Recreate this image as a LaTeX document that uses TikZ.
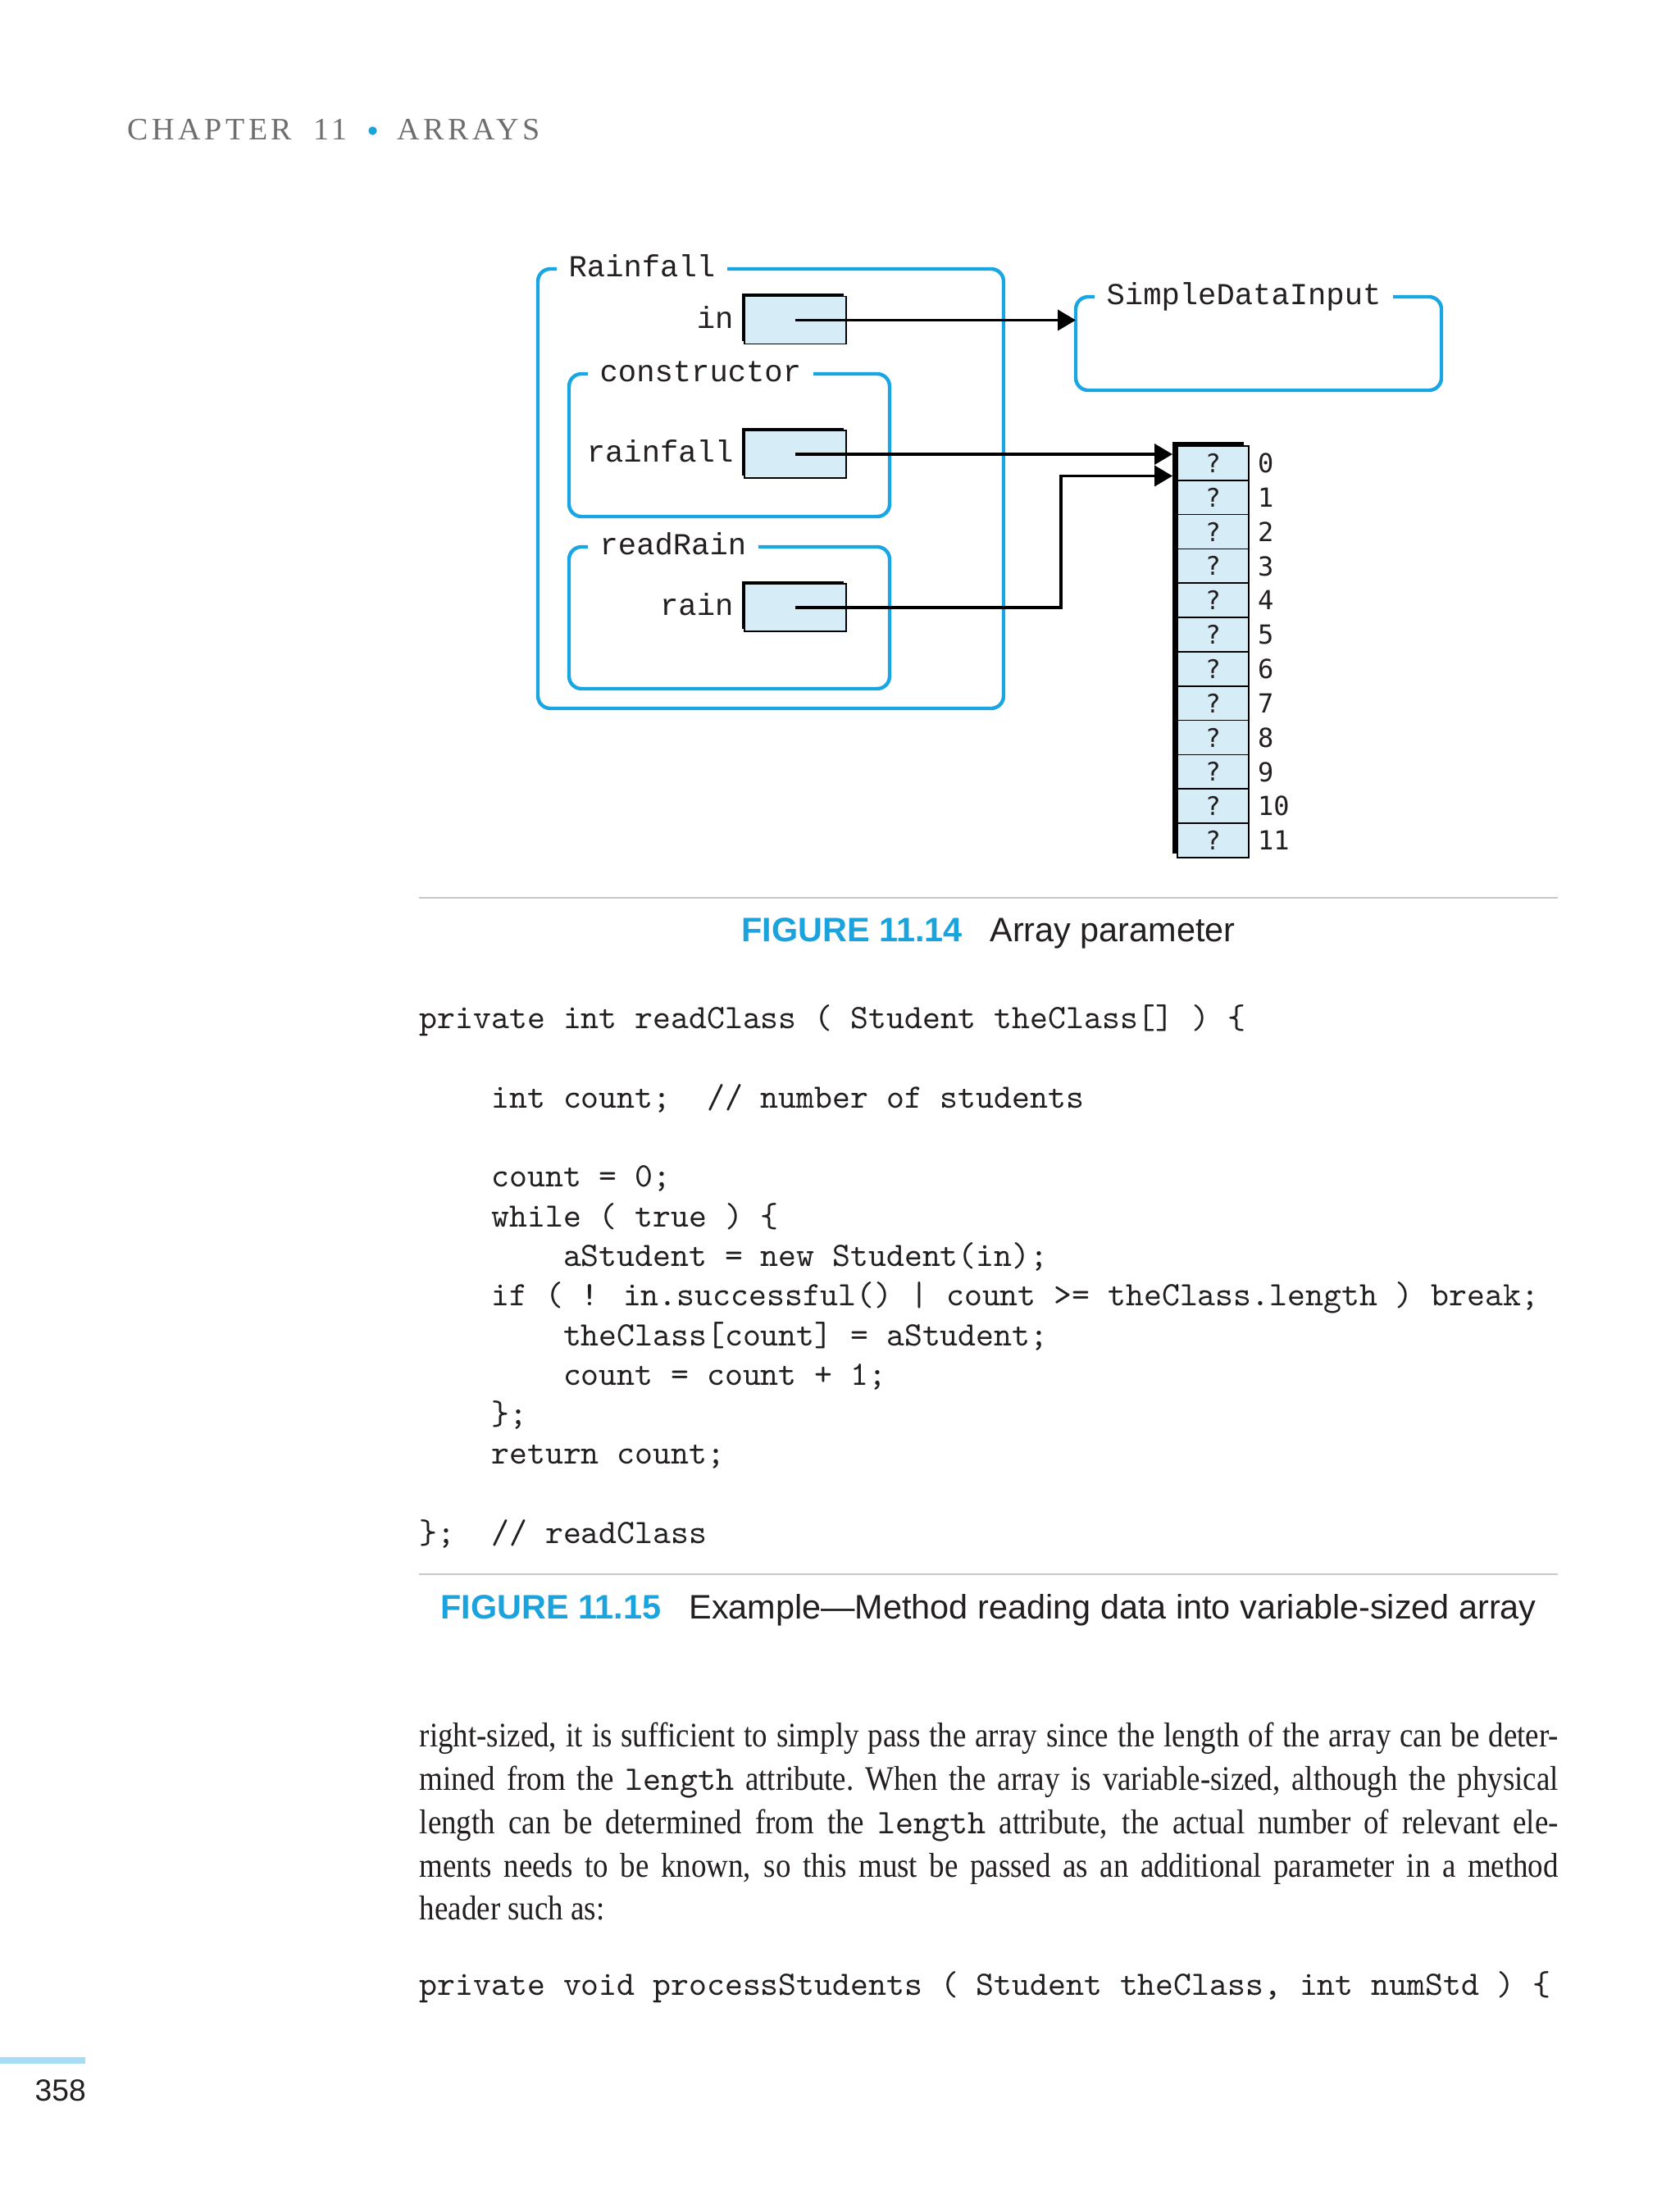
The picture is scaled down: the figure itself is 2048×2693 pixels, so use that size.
\documentclass[tikz,border=0pt]{standalone}
\usepackage{fontspec}
\setmainfont{Liberation Serif}
\newfontfamily\bodyfont[FakeStretch=0.88]{Liberation Serif}
\newfontfamily\diagfont{Liberation Mono}
\newfontfamily\idxfont{DejaVu Sans Mono}
\newfontfamily\capfont{Liberation Sans}
\newfontfamily\headfont[LetterSpace=12]{Liberation Serif}
\usetikzlibrary{arrows.meta,shadows}
\definecolor{frameblue}{RGB}{26,166,226}
\definecolor{cellblue}{RGB}{214,237,248}
\definecolor{capblue}{RGB}{27,163,222}
\definecolor{headgray}{RGB}{110,110,110}
\definecolor{rulegray}{RGB}{200,200,200}
\definecolor{barblue}{RGB}{166,220,246}
\definecolor{ink}{RGB}{35,31,32}
\tikzset{frame/.style={draw=frameblue, line width=1.1pt, rounded corners=3.8pt, inner sep=0pt, outer sep=0pt},
	frametitle/.style={fill=white, inner xsep=3.6pt, inner ysep=1pt, anchor=mid west, xshift=5.6pt,
		font=\diagfont\fontsize{9.3pt}{11pt}\selectfont, text=ink},
	ptrbox/.style={draw=black, line width=0.4pt, fill=cellblue, minimum width=31pt, minimum height=14.5pt, inner sep=0pt,
		general shadow={fill=black, shadow xshift=-0.75pt, shadow yshift=0.75pt}},
	varname/.style={anchor=east, inner sep=0pt, yshift=0.9pt, font=\diagfont\fontsize{9.3pt}{11pt}\selectfont, text=ink},
	cell/.style={draw=black, line width=0.4pt, fill=cellblue, minimum width=21.75pt, minimum height=10.46pt, inner sep=0pt,
		font=\idxfont\fontsize{7.8pt}{9pt}\selectfont, text=ink},
	idx/.style={inner sep=0pt, xshift=2.4pt, font=\idxfont\fontsize{8pt}{9pt}\selectfont, text=ink},
	ptrarrow/.style={line width=0.8pt, -{Triangle[length=5.5pt,width=6.3pt]}},
	headtext/.style={anchor=base west, inner sep=0pt, font=\headfont\fontsize{9.5pt}{11pt}\selectfont, text=headgray},
	codeline/.style={anchor=mid west, inner sep=0pt, font=\ttfamily\fontsize{10.43pt}{12pt}\selectfont, text=ink},
	bodyline/.style={anchor=mid west, inner sep=0pt, font=\bodyfont\fontsize{10.5pt}{12pt}\selectfont, text=ink},
	caption/.style={anchor=base, inner sep=0pt, font=\capfont\fontsize{10.35pt}{12pt}\selectfont, text=ink}}

\begin{document}
\begin{tikzpicture}[x=0.25pt,y=-0.25pt]
	\fill[white] (0,0) rectangle (2048,2693);
	\useasboundingbox (0,0) rectangle (2048,2693);
	% running head
	\node[headtext] (chap) at (155,171) {CHAPTER};
	\node[headtext] (chapno) at (382,171) {11};
	\fill[capblue] (454.5,159.5) circle (1.3pt);
	\node[headtext] (chaptitle) at (484,171) {ARRAYS};
	% frames
	\node[frame, minimum width=142pt, minimum height=134pt] (rainfall) at (940,596) {};
	\node[frame, minimum width=97.75pt, minimum height=43.5pt] (constructor) at (889.5,543) {};
	\node[frame, minimum width=97.75pt, minimum height=43.25pt] (readrain) at (889.5,753.5) {};
	\node[frame, minimum width=111.5pt, minimum height=28.5pt] (sdi) at (1535,419) {};
	\node[frametitle] (rftitle) at (rainfall.north west) {Rainfall};
	\node[frametitle] (cotitle) at (constructor.north west) {constructor};
	\node[frametitle] (rrtitle) at (readrain.north west) {readRain};
	\node[frametitle] (sdititle) at (sdi.north west) {SimpleDataInput};
	% variables
	\node[ptrbox] (inbox) at (970,390.5) {};
	\node[ptrbox] (rfbox) at (970,554) {};
	\node[ptrbox] (rainbox) at (970,741) {};
	\node[varname] (inname) at ([xshift=-3pt]inbox.west) {in};
	\node[varname] (rfname) at ([xshift=-3pt]rfbox.west) {rainfall};
	\node[varname] (rainname) at ([xshift=-3pt]rainbox.west) {rain};
	% array
	\fill[black] (1430,539) rectangle (1517,1041);
	\node[cell, label={[idx]right:0}] (cell0) at (1479.5,564.9) {?};
	\node[cell, label={[idx]right:1}] (cell1) at (1479.5,606.7) {?};
	\node[cell, label={[idx]right:2}] (cell2) at (1479.5,648.6) {?};
	\node[cell, label={[idx]right:3}] (cell3) at (1479.5,690.4) {?};
	\node[cell, label={[idx]right:4}] (cell4) at (1479.5,732.2) {?};
	\node[cell, label={[idx]right:5}] (cell5) at (1479.5,774.1) {?};
	\node[cell, label={[idx]right:6}] (cell6) at (1479.5,815.9) {?};
	\node[cell, label={[idx]right:7}] (cell7) at (1479.5,857.7) {?};
	\node[cell, label={[idx]right:8}] (cell8) at (1479.5,899.5) {?};
	\node[cell, label={[idx]right:9}] (cell9) at (1479.5,941.4) {?};
	\node[cell, label={[idx]right:10}] (cell10) at (1479.5,983.2) {?};
	\node[cell, label={[idx]right:11}] (cell11) at (1479.5,1025.0) {?};
	% references
	\coordinate (arrl) at (1430,580.5);
	\coordinate (elbow) at (1294,580.5);
	\draw[ptrarrow] (inbox.center) -- (inbox.center -| sdi.west);
	\draw[ptrarrow] (rfbox.center) -- (rfbox.center -| arrl);
	\draw[ptrarrow] (rainbox.center) -| (elbow) -- (arrl);
	% figure 11.14
	\draw[rulegray, line width=0.6pt] (511,1095) -- (1900,1095);
	\node[caption] (cap14) at (1205.5,1148.8) {\textcolor{capblue}{\bfseries FIGURE 11.14}\hspace{8.5pt}Array parameter};
	% figure 11.15
	\node[codeline] (code1) at (511,1245.5) {private int readClass ( Student theClass[] ) \{};
	\node[codeline] (code2) at (598.6,1342.1) {int count;\ \ // number of students};
	\node[codeline] (code3) at (598.6,1438.7) {count = 0;};
	\node[codeline] (code4) at (598.6,1487) {while ( true ) \{};
	\node[codeline] (code5) at (686.2,1535.3) {aStudent = new Student(in);};
	\node[codeline] (code6) at (598.6,1583.6) {if ( ! in.successful() | count >= theClass.length ) break;};
	\node[codeline] (code7) at (686.2,1631.9) {theClass[count] = aStudent;};
	\node[codeline] (code8) at (686.2,1680.2) {count = count + 1;};
	\node[codeline] (code9) at (598.6,1728.5) {\};};
	\node[codeline] (code10) at (598.6,1776.8) {return count;};
	\node[codeline] (code11) at (511,1873.4) {\};\ \ // readClass};
	\draw[rulegray, line width=0.6pt] (511,1920) -- (1900,1920);
	\node[caption] (cap15) at (1205.5,1974.8) {\textcolor{capblue}{\bfseries FIGURE 11.15}\hspace{8.5pt}Example—Method reading data into variable-sized array};
	% body text
	\node[bodyline] (body1) at (511,2121) {\makebox[347.25pt][s]{right-sized, it is sufficient to simply pass the array since the length of the array can be deter-}};
	\node[bodyline] (body2) at (511,2174) {\makebox[347.25pt][s]{\frenchspacing mined from the \texttt{length} attribute. When the array is variable-sized, although the physical}};
	\node[bodyline] (body3) at (511,2227) {\makebox[347.25pt][s]{length can be determined from the \texttt{length} attribute, the actual number of relevant ele-}};
	\node[bodyline] (body4) at (511,2280) {\makebox[347.25pt][s]{ments needs to be known, so this must be passed as an additional parameter in a method}};
	\node[bodyline] (body5) at (511,2332) {header such as:};
	\node[codeline] (code12) at (511,2424.6) {private void processStudents ( Student theClass, int numStd ) \{};
	% folio
	\fill[barblue] (0,2509) rectangle (104,2517);
	\node[anchor=base east, inner sep=0pt, font=\capfont\fontsize{9.3pt}{11pt}\selectfont, text=ink] (folio) at (105.5,2562) {358};
\end{tikzpicture}
\end{document}
